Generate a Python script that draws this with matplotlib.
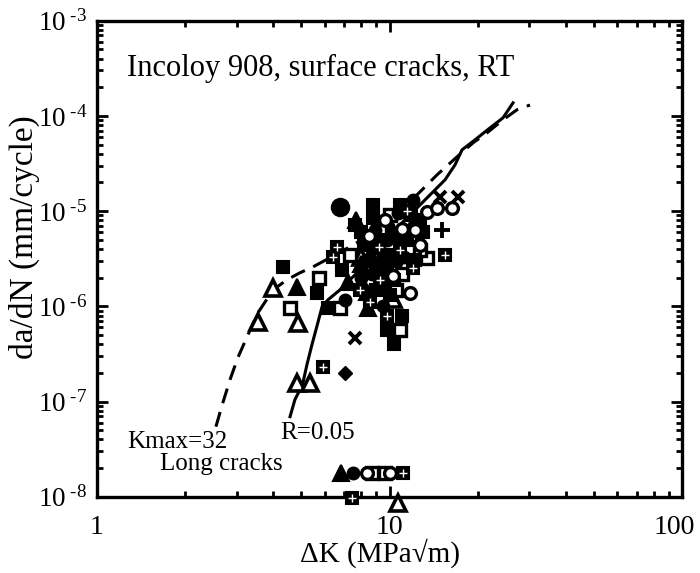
import matplotlib
matplotlib.use("Agg")
import matplotlib.pyplot as plt
from matplotlib.ticker import LogLocator, FixedLocator, NullFormatter
from matplotlib.transforms import ScaledTranslation

plt.rcParams['font.family'] = ['Liberation Serif', 'DejaVu Serif']
plt.rcParams['mathtext.fontset'] = 'custom'
plt.rcParams['mathtext.rm'] = 'Liberation Serif'
plt.rcParams['mathtext.it'] = 'Liberation Serif:italic'

# ---- data ----
long_dk = [2.55, 2.68, 2.85, 3.03, 3.26, 3.55, 4.00, 4.46, 4.94, 5.48, 6.26, 7.33, 8.58,
           10.04, 11.75, 14.53, 17.01, 19.30, 21.54, 24.43, 27.29, 30.22]
long_rate = [5.45e-8, 9.28e-8, 1.70e-7, 2.89e-7, 4.80e-7, 8.57e-7, 1.49e-6, 1.90e-6, 2.25e-6,
             2.60e-6, 3.24e-6, 4.22e-6, 5.64e-6, 8.11e-6, 1.25e-5, 2.40e-5, 3.71e-5, 5.21e-5,
             6.63e-5, 9.08e-5, 1.16e-4, 1.30e-4]

r005_dk = [4.57, 4.75, 4.94, 5.06, 5.22, 5.43, 5.70, 5.88, 6.16, 6.77, 7.93, 9.28, 10.86,
           12.71, 15.48, 16.75, 17.70, 19.60, 22.06, 24.43, 26.44]
r005_rate = [6.94e-8, 1.05e-7, 1.33e-7, 1.58e-7, 2.44e-7, 3.95e-7, 6.89e-7, 9.90e-7, 1.17e-6,
             1.49e-6, 2.42e-6, 3.93e-6, 7.18e-6, 1.16e-5, 2.13e-5, 3.06e-5, 4.40e-5, 5.60e-5,
             7.48e-5, 9.53e-5, 1.37e-4]

open_tri_dk = [3.55, 4.00, 4.87, 4.83, 5.35, 10.69, 10.61, 9.65, 11.3, 10.3, 8.0]
open_tri_rate = [6.89e-7, 1.57e-6, 6.73e-7, 1.58e-7, 1.58e-7, 8.69e-9, 2.6e-6, 2.6e-6, 2.7e-6,
                 1.2e-6, 3.3e-6]

fill_tri_dk = [4.83, 8.44, 6.83, 9.80, 7.7, 8.9, 7.2, 9.5, 10.8, 11.9, 8.0, 9.2, 10.2, 8.4]
fill_tri_rate = [1.61e-6, 9.67e-7, 1.79e-8, 2.60e-6, 8.1e-6, 4.4e-6, 1.8e-6, 1.9e-6, 4.0e-6,
                 7.0e-6, 2.8e-6, 3.0e-6, 6.5e-6, 1.4e-6]

open_sq_dk = [4.57, 6.77, 10.86, 13.44, 8.71, 9.65, 5.75, 11.75, 12.7, 10.0, 7.3, 9.3, 11.0,
              10.5, 11.6]
open_sq_rate = [9.67e-7, 9.67e-7, 5.68e-7, 3.24e-6, 1.79e-8, 1.79e-8, 2.0e-6, 5.6e-6, 3.9e-6,
                9.1e-6, 3.5e-6, 6.5e-6, 2.2e-6, 1.5e-6, 1.0e-5]

fill_sq_dk = [4.32, 8.78, 6.16, 9.80, 5.65, 10.4, 7.6, 8.2, 9.3, 10.9, 12.7, 10.4, 12.2, 11.5,
              9.0, 10.0, 11.0, 6.9, 8.5, 13.0, 8.0, 9.8, 10.5, 11.8, 9.0, 8.8]
fill_sq_rate = [2.60e-6, 1.16e-5, 9.67e-7, 5.68e-7, 1.39e-6, 4.0e-7, 7.2e-6, 4.4e-6, 5.0e-6,
                1.16e-5, 8.1e-6, 1.9e-6, 3.1e-6, 5.0e-6, 2.5e-6, 1.3e-6, 8.0e-7, 2.4e-6, 3.0e-6,
                6.0e-6, 6.0e-6, 3.5e-6, 5.5e-6, 9.0e-6, 1.5e-6, 8.5e-6]

dot_sq_dk = [6.61, 6.41, 5.92, 7.44, 11.12, 15.48, 9.28, 7.93, 10.86, 8.6, 11.5, 9.8, 9.2, 12.0]
dot_sq_rate = [4.22e-6, 3.31e-6, 2.32e-7, 9.81e-9, 1.79e-8, 3.48e-6, 1.9e-6, 1.5e-6, 3.9e-6,
               1.1e-6, 1.0e-5, 8.0e-7, 4.2e-6, 2.5e-6]

fill_circ_dk = [7.50, 7.05, 8.92, 10.44, 8.0, 9.5, 12.0, 9.8, 11.2, 10.7, 8.7]
fill_circ_rate = [1.79e-8, 1.17e-6, 6.37e-6, 3.08e-6, 2.0e-6, 1.0e-6, 1.3e-5, 5.0e-6, 3.3e-6,
                  9.5e-6, 2.2e-6]
big_circ_dk = [6.77]
big_circ_rate = [1.11e-5]

open_circ_dk = [13.44, 14.53, 16.36, 11.75, 8.38, 10.04, 9.65, 12.2, 12.7, 11.0, 8.5, 10.3]
open_circ_rate = [9.83e-6, 1.08e-5, 1.08e-5, 1.39e-6, 1.79e-8, 1.79e-8, 8.1e-6, 6.4e-6, 4.4e-6,
                  6.5e-6, 5.5e-6, 2.1e-6]

cross_dk = [14.88, 17.15, 7.62]
cross_rate = [1.41e-5, 1.41e-5, 4.68e-7]

plus_dk = [15.12]
plus_rate = [6.37e-6]

diamond_dk = [7.05]
diamond_rate = [2.01e-7]

x_ticks = [1, 10, 100]
x_tick_labels = ['1', '10', '100']
y_exponents = [8, 7, 6, 5, 4, 3]
title_text = "Incoloy 908, surface cracks, RT"

# ---- figure ----
fig = plt.figure(figsize=(7.0, 5.73), dpi=100)
ax = fig.add_axes([0.1386, 0.133, 0.8357, 0.831])
ax.set_xscale('log')
ax.set_yscale('log')
ax.set_xlim(1, 100)
ax.set_ylim(1e-8, 1e-3)

ax.plot(long_dk, long_rate, color='black', lw=2.2, ls=(0, (5, 3)), zorder=2)
ax.plot(r005_dk, r005_rate, color='black', lw=2.2, ls='-', zorder=2)

common = dict(ls='none', clip_on=False, zorder=3)
ax.plot(open_tri_dk, open_tri_rate, marker='^', ms=12, mfc='white', mec='black', mew=2.6, **common)
ax.plot(fill_tri_dk, fill_tri_rate, marker='^', ms=12, mfc='black', mec='black', mew=1.5, **common)
ax.plot(open_sq_dk, open_sq_rate, marker='s', ms=8.5, mfc='white', mec='black', mew=2.4, **common)
ax.plot(fill_sq_dk, fill_sq_rate, marker='s', ms=8.5, mfc='black', mec='black', mew=1.5, **common)
ax.plot(dot_sq_dk, dot_sq_rate, marker='s', ms=8.5, mfc='black', mec='black', mew=1.5, **common)
ax.plot(dot_sq_dk, dot_sq_rate, marker='+', ms=5.5, mec='white', mew=1.0, ls='none',
        clip_on=False, zorder=4)
ax.plot(fill_circ_dk, fill_circ_rate, marker='o', ms=9, mfc='black', mec='black', **common)
ax.plot(big_circ_dk, big_circ_rate, marker='o', ms=13, mfc='black', mec='black', **common)
ax.plot(open_circ_dk, open_circ_rate, marker='o', ms=8.5, mfc='white', mec='black', mew=2.4, **common)
ax.plot(cross_dk, cross_rate, marker='x', ms=9, mec='black', mew=2.8, **common)
ax.plot(plus_dk, plus_rate, marker='+', ms=12, mec='black', mew=2.8, **common)
ax.plot(diamond_dk, diamond_rate, marker='D', ms=7, mfc='black', mec='black', **common)

# ticks
ax.xaxis.set_major_locator(FixedLocator(x_ticks))
ax.xaxis.set_minor_locator(LogLocator(base=10, subs=range(2, 10), numticks=20))
ax.yaxis.set_minor_locator(LogLocator(base=10, subs=range(2, 10), numticks=20))
ax.xaxis.set_minor_formatter(NullFormatter())
ax.yaxis.set_minor_formatter(NullFormatter())
ax.set_xticklabels(x_tick_labels)
ax.set_yticks([10.0 ** (-e) for e in y_exponents])
ax.set_yticklabels([r'$10^{\ \text{-}%d}$' % e for e in y_exponents])
ax.tick_params(which='both', direction='in', top=True, right=True, width=2.0)
ax.tick_params(which='major', length=8)
ax.tick_params(axis='x', which='major', labelsize=20, pad=13)
ax.tick_params(axis='y', which='major', labelsize=19.5, pad=7)
ax.tick_params(which='minor', length=4.5)
for sp in ax.spines.values():
    sp.set_linewidth(2.4)
# keep the "100" label inside the figure edge
lab100 = ax.get_xticklabels()[2]
lab100.set_transform(lab100.get_transform() + ScaledTranslation(-8 / 100, 0, fig.dpi_scale_trans))

ax.set_xlabel('ΔK (MPa√m)', fontsize=21)
ax.xaxis.set_label_coords(0.484, -0.088)
ax.set_ylabel('da/dN (mm/cycle)', fontsize=24)
ax.yaxis.set_label_coords(-0.098, 0.545)

ax.text(0.051, 0.90, title_text, transform=ax.transAxes, fontsize=22, va='center', ha='left')
ax.text(0.051, 0.115, 'Kmax=32', transform=ax.transAxes, fontsize=18, va='center', ha='left')
ax.text(0.108, 0.068, 'Long cracks', transform=ax.transAxes, fontsize=18, va='center', ha='left')
ax.text(0.313, 0.135, 'R=0.05', transform=ax.transAxes, fontsize=18, va='center', ha='left')

fig.savefig('out.png', dpi=100)
